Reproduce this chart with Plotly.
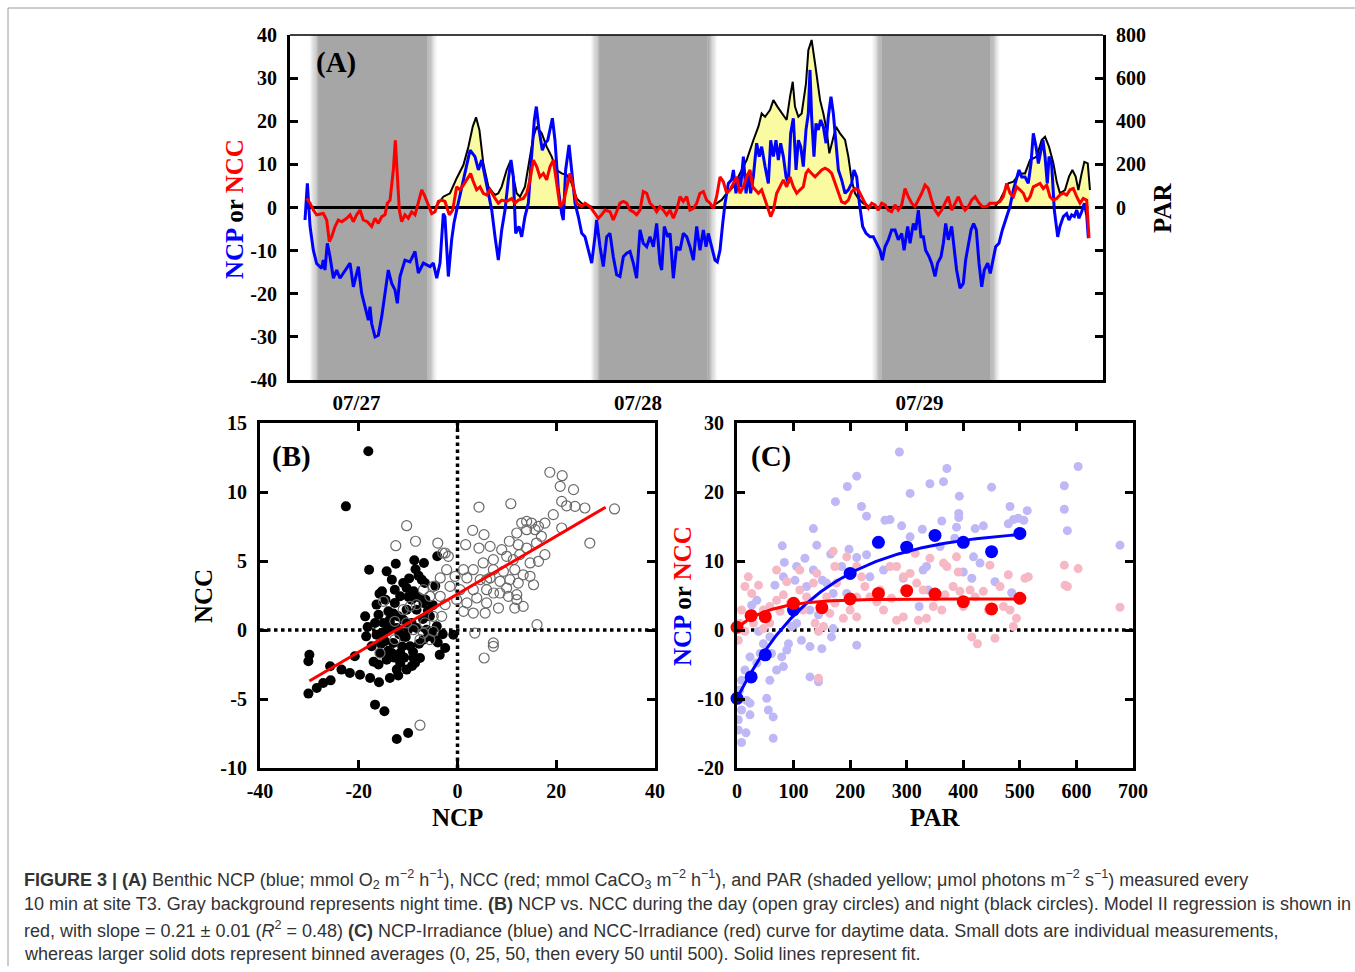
import numpy as np
import plotly.graph_objects as go

# ---------------- Panel A : time series (hours since 07/27 00:00) ----------------
ncp_t = [-4.39,-4.19,-3.96,-3.68,-3.40,-2.97,-2.83,-2.69,-2.49,-2.26,-1.97,-1.69,-1.41,-1.12,-0.55,-0.27,0.16,0.44,0.81,1.01,
         1.15,1.29,1.58,1.86,2.15,2.43,2.71,3.00,3.28,3.48,3.71,4.13,4.56,4.99,5.27,5.70,6.27,6.55,6.84,7.12,
         7.40,7.54,7.83,8.11,8.31,8.54,9.11,9.68,10.10,10.39,10.67,11.10,11.53,
         11.81,12.09,12.38,12.66,12.94,13.17,13.37,13.57,13.85,14.08,14.36,14.65,14.88,15.16,15.33,15.56,15.84,16.07,16.30,16.50,
         16.70,16.92,17.21,17.49,17.63,17.83,18.12,18.34,18.63,18.91,19.20,19.48,19.76,20.05,20.33,20.47,20.76,21.04,21.33,21.61,
         21.89,22.18,22.46,22.75,23.03,23.32,23.60,23.88,24.17,24.45,24.74,25.02,25.31,25.59,25.87,26.02,26.24,26.53,26.73,27.01,
         27.29,27.58,27.86,28.15,28.43,28.72,29.00,
         29.28,29.57,29.80,29.99,30.28,30.56,30.76,30.99,31.22,31.42,31.70,31.98,32.13,32.35,32.55,32.75,32.98,33.21,33.40,33.60,
         33.83,34.11,34.34,34.54,34.83,35.11,35.31,35.54,35.76,35.96,36.16,36.39,36.62,36.82,37.01,37.24,37.47,37.67,37.87,38.09,
         38.32,38.52,38.66,38.80,39.00,39.17,39.37,39.57,39.80,40.03,40.22,40.45,40.65,40.88,41.08,41.36,41.65,41.93,42.21,42.41,
         42.64,42.87,43.15,43.44,43.78,44.06,44.35,44.63,44.83,45.06,45.34,45.62,45.91,46.19,46.48,46.68,
         46.99,47.19,47.47,47.67,47.90,48.12,48.32,48.52,48.81,49.03,49.32,49.54,49.83,50.03,50.23,50.45,50.74,50.97,51.16,51.45,
         51.73,51.93,52.16,52.39,52.61,52.84,53.07,53.30,53.52,53.81,54.03,54.29,54.49,54.77,55.06,55.43,55.71,56.00,56.28,56.48,
         56.71,56.99,57.27,57.50,57.70,57.93,58.13,58.35,58.52,58.70,58.89,59.04,59.26,59.49,59.78,59.97,60.26,60.54,60.74,60.97,
         61.20,61.40,61.59,61.82,62.05,62.25,62.39]
ncp_v = [-2.9,5.6,-4.4,-9.9,-13.0,-14.1,-12.2,-14.5,-8.3,-11.4,-16.4,-14.5,-16.4,-15.3,-12.9,-18.4,-13.7,-19.9,-23.8,-26.1,
         -23.0,-26.9,-30.0,-29.6,-25.3,-19.9,-14.5,-17.6,-19.1,-22.2,-16.0,-12.2,-12.6,-10.2,-15.2,-12.9,-13.7,-12.9,-16.4,-12.9,
         -1.4,-2.2,-16.0,-7.5,-3.6,-0.6,6.4,13.3,11.8,8.7,11.0,4.8,-0.6,
         -6.8,-12.2,-5.2,-0.6,6.4,11.0,7.1,-6.0,-4.4,-6.8,-2.1,1.0,10.2,20.3,23.4,18.0,13.3,14.9,15.6,18.0,
         20.7,15.6,4.1,-1.4,-2.9,8.7,14.5,8.7,1.0,-2.1,-6.0,-6.8,-9.9,-12.9,-6.8,-2.9,-9.1,-13.7,-6.8,-6.0,
         -11.4,-15.6,-16.0,-11.4,-10.6,-10.2,-12.9,-16.4,-5.2,-8.3,-9.1,-6.8,-9.1,-3.7,-12.9,-14.5,-4.4,-6.8,-6.0,-16.4,
         -9.1,-9.9,-6.0,-6.8,-9.1,-12.2,-4.4,
         -9.9,-5.2,-9.1,-6.0,-9.1,-12.2,-12.6,-9.9,-3.7,1.0,5.6,6.4,8.7,3.3,7.1,4.8,11.8,3.3,7.9,3.3,
         7.1,14.9,11.8,14.1,9.5,5.6,15.6,11.8,15.6,11.0,14.9,11.8,7.1,5.6,17.2,20.7,8.7,15.6,14.1,9.5,
         18.0,21.8,31.9,21.0,11.8,19.5,18.0,20.3,18.7,14.9,21.0,25.7,21.8,14.1,8.7,6.4,3.3,4.1,5.6,8.7,
         7.1,1.0,-4.4,-6.0,-6.8,-6.8,-8.3,-9.9,-12.2,-9.1,-7.5,-5.2,-5.2,-7.5,-6.0,-9.9,
         -4.4,-8.3,-3.7,-5.2,-0.6,-6.8,-6.8,-9.9,-11.4,-12.9,-16.0,-12.9,-11.4,-8.3,-3.7,-7.5,-4.4,-9.9,-14.5,-18.7,
         -17.6,-12.2,-9.1,-5.2,-3.7,-5.2,-12.9,-18.4,-14.5,-12.9,-15.3,-12.2,-9.1,-8.3,-5.2,-2.1,0.2,4.1,7.1,8.7,
         7.1,7.1,5.6,10.2,17.2,14.1,10.2,13.3,15.6,11.8,5.6,11.8,10.2,-0.6,-6.8,-4.4,-2.1,-1.4,-2.9,-1.7,
         -2.1,-0.6,-2.5,-1.0,1.0,-1.7,-7.1]

ncc_t = [-4.25,-3.96,-3.68,-3.40,-2.83,-2.54,-2.32,-2.12,-1.83,-1.55,-1.26,-0.84,-0.55,-0.27,0.01,0.30,0.58,0.92,1.29,1.58,
         1.86,2.15,2.43,2.63,2.86,3.14,3.31,3.48,3.65,3.85,4.13,4.42,4.70,4.99,5.27,5.56,5.84,6.12,6.41,6.69,
         6.98,7.26,7.54,7.91,8.20,8.54,8.82,9.11,9.39,9.73,9.96,10.24,10.53,10.81,11.10,11.38,11.81,
         12.09,12.38,12.80,13.23,13.51,13.80,14.22,14.51,14.79,15.08,15.36,15.64,15.93,16.21,16.50,16.78,17.06,17.35,17.63,17.92,
         18.20,18.49,18.77,19.20,19.48,19.91,20.33,20.62,20.90,21.19,21.61,21.89,22.18,22.46,22.75,23.03,23.32,23.60,23.88,24.17,
         24.45,24.74,25.02,25.31,25.59,25.87,26.16,26.44,26.73,27.01,27.29,27.58,27.86,28.15,28.43,28.72,29.00,29.28,
         29.57,29.85,30.14,30.42,30.70,30.99,31.27,31.56,31.84,32.13,32.41,32.69,32.98,33.26,33.55,33.77,33.97,34.26,34.54,34.83,
         35.11,35.31,35.54,35.82,36.10,36.39,36.67,36.96,37.24,37.53,37.81,38.09,38.32,38.52,38.80,39.09,39.37,39.66,39.94,40.22,
         40.51,40.79,41.08,41.36,41.65,41.93,42.21,42.50,42.78,43.07,43.35,43.64,43.92,44.20,44.49,44.77,45.06,45.34,45.62,45.91,
         46.19,46.48,46.76,
         47.04,47.33,47.61,47.90,48.18,48.47,48.75,49.03,49.32,49.60,49.89,50.17,50.45,50.74,51.02,51.31,51.59,51.88,52.16,52.44,
         52.73,53.01,53.35,53.72,54.01,54.29,54.57,54.86,55.14,55.43,55.71,56.00,56.28,56.56,56.85,57.13,57.42,57.70,57.99,58.27,
         58.55,58.84,59.12,59.41,59.69,59.97,60.26,60.54,60.83,61.11,61.40,61.68,61.96,62.25,62.45]
ncc_v = [2.1,1.0,-0.6,-1.7,-1.4,-2.9,-7.9,-6.8,-4.4,-2.9,-3.3,-2.5,-1.7,-3.3,-1.7,-0.6,-2.9,-3.3,-4.4,-2.5,
         -3.7,-2.1,-1.7,1.0,1.7,8.7,15.6,8.7,-0.6,-3.3,-1.7,-2.5,-1.0,-1.7,1.4,4.1,2.5,0.6,-1.4,-1.0,
         1.4,1.7,1.4,-1.7,-0.6,4.8,4.1,5.2,6.4,7.9,6.0,4.1,4.8,3.3,2.9,4.1,2.1,
         1.0,1.7,1.4,2.1,1.0,1.7,2.1,3.3,6.4,11.0,9.5,7.1,7.9,6.4,9.5,11.0,5.6,0.2,1.0,4.8,
         7.9,4.8,1.0,0.2,1.0,0.2,-1.4,-2.5,-1.7,-0.6,-1.0,-2.9,-1.0,1.0,1.4,1.0,-0.6,-1.0,-1.7,-0.6,
         3.7,3.3,1.0,0.2,-1.0,0.2,-0.6,-1.7,-0.6,-2.5,-0.6,2.5,1.4,2.5,-0.6,-0.2,1.0,3.3,
         3.7,1.7,1.0,-0.2,2.5,7.1,6.0,3.3,4.1,5.6,7.1,3.3,4.8,7.1,8.7,4.8,4.1,3.3,4.1,1.7,
         -0.6,-2.1,-0.6,3.3,4.8,6.4,4.8,7.1,4.8,3.3,4.1,4.8,7.9,8.7,7.9,7.1,7.9,8.7,9.1,8.7,
         7.9,5.6,3.3,1.3,1.0,1.7,3.7,4.4,4.1,2.5,1.0,-0.2,1.0,0.6,-0.6,1.0,0.6,-0.6,-1.0,0.6,
         -0.6,0.6,4.4,
         2.5,1.0,0.2,1.7,3.3,5.2,4.4,1.7,-0.6,-1.7,-0.6,1.0,2.5,-0.6,1.0,2.5,0.6,-0.6,0.2,1.7,
         2.5,1.3,0.2,0.2,1.0,1.0,1.0,1.4,2.5,5.6,3.3,2.5,4.8,4.1,3.3,1.4,2.5,4.8,5.2,5.6,
         4.4,5.2,2.5,1.7,2.1,2.9,3.3,2.9,4.1,4.4,2.5,1.0,2.1,1.7,-7.1]

par_t = [-4.39,6.70,7.40,7.97,8.54,9.11,9.54,9.91,10.19,10.48,10.81,11.24,11.67,11.81,12.09,12.38,12.80,13.09,13.37,13.65,
         13.94,14.36,14.79,15.08,15.36,15.79,16.21,16.64,17.06,17.49,17.92,18.34,18.77,19.20,19.76,20.33,29.80,30.28,30.70,31.13,
         31.56,32.13,32.69,33.26,33.83,34.26,34.54,34.83,35.25,35.54,35.88,36.25,36.67,36.96,37.19,37.38,37.67,37.95,38.32,38.52,
         38.80,39.09,39.29,39.52,39.80,40.08,40.31,40.59,40.88,41.22,41.65,41.93,42.21,42.50,42.78,43.21,43.78,44.35,54.20,54.43,
         54.86,55.29,55.57,56.00,56.56,56.99,57.42,57.99,58.41,58.70,59.04,59.41,59.69,59.97,60.40,60.74,61.03,61.31,61.54,61.82,
         62.05,62.34,62.53]
par_v = [0,0,50,66,136,197,282,375,418,359,205,97,66,58,66,97,174,212,143,66,
         50,97,236,328,375,344,282,236,174,158,151,112,42,19,7,0,0,4,19,35,
         66,97,158,220,312,375,436,421,452,498,468,436,406,514,583,468,421,436,576,730,
         777,668,576,498,436,359,251,313,375,344,313,236,128,66,42,19,4,0,0,4,
         35,81,112,120,158,158,220,236,313,328,282,205,120,66,81,143,174,143,81,158,
         212,205,81]

night_start = [-3.6, 20.35, 44.35]
night_end = [6.45, 30.35, 54.45]
day_ticks = [0, 24, 48]
day_labels = ["07/27", "07/28", "07/29"]
ncp_ticks = [-40, -30, -20, -10, 0, 10, 20, 30, 40]
par_ticks = [-800, -600, -400, -200, 0, 200, 400, 600, 800]
par_tick_labels = ["", "", "", "", "0", "200", "400", "600", "800"]

# ---------------- Panel B : NCP vs NCC ----------------
night_ncp = [-18.06,-22.6,-17.9,-12.5,-8.75,-6.8,-4.1,-14.35,-13.3,-15.3,-15.8,-9.8,-7.9,-7.25,-10.3,-11.6,-8.9,-6.6,-18.7,-18.2,
             -18.5,-16.0,-16.7,-15.0,-13.7,-16.4,-14.35,-12.3,-11.0,-13.0,-15.7,-14.35,-11.6,-9.6,-8.6,-7.6,-10.3,-12.3,-13.7,-15.9,
             -17.7,-19.75,-21.8,-23.5,-25.8,-20.8,-30.0,-30.2,-30.2,-28.5,-27.2,-25.7,-16.7,-14.8,-12.3,-10.0,-2.5,-0.85,-4.2,-5.6,
             -6.25,-4.56,-8.3,-10.3,-12.0,-14.0,-12.7,-9.3,-6.9,-16.4,-12.7,-8.3,-6.9,-9.3,-11.0,-14.7,-17.4,-11.6,-8.9,-13.3,
             -5.9,-10.0,-13.3,-15.4,-15.5,-14.0,-12.8,-11.2,-10.5,-9.0,-7.8,-7.0,-6.0,-5.2,-4.0,-3.0,-8.0,-9.9,-11.8,-13.7,
             -15.0,-16.0,-12.0,-10.8,-9.2,-13.0,-14.6,-11.0,-8.5,-6.5,-5.0,-4.5,-3.6,-17.0]
night_ncc = [12.95,8.96,4.37,4.8,5.05,4.86,5.34,4.25,3.65,2.8,2.63,3.74,3.94,3.65,3.04,2.44,2.8,3.4,0.99,0.22,
             -0.46,1.11,0.51,0.51,0.75,-0.34,-0.1,0.14,-0.46,-0.94,-1.67,-2.15,-1.67,-1.18,-2.39,-2.03,-2.87,-2.87,-3.48,-3.79,
             -3.48,-3.24,-3.12,-2.87,-2.63,-1.9,-1.79,-2.27,-4.61,-4.2,-3.84,-3.65,-5.41,-5.89,-7.9,-7.46,-1.3,-0.34,0.27,0.99,
             0.02,-0.7,1.47,1.47,0.99,1.35,1.96,2.2,1.96,1.84,2.92,0.14,-0.7,0.51,0.75,-0.82,-1.18,-2.39,-2.03,-1.67,
             -0.46,0.02,0.14,-0.22,-1.0,-1.5,-2.0,-1.2,-0.5,-1.6,-1.0,0.8,1.4,-0.2,-0.9,-0.3,2.4,2.4,-0.3,0.5,
             -0.2,-2.5,-3.3,-2.0,-2.6,1.2,2.2,3.4,4.4,2.2,1.8,3.2,-1.8,-2.3]
day_ncp = [18.7,21.2,20.8,23.5,4.35,10.8,21.1,22.1,23.8,25.8,31.8,26.8,-10.3,-8.5,-12.5,-4.0,-3.0,-1.86,3.07,5.37,
           1.65,4.35,6.6,10.5,13.0,14.0,15.0,16.4,17.7,19.4,12.0,14.0,15.7,17.0,12.3,14.0,16.0,17.7,21.1,8.95,
           9.95,11.3,12.6,14.7,16.4,7.26,5.2,3.2,7.26,9.3,11.6,13.3,14.7,15.4,12.3,10.6,8.6,6.6,4.6,1.9,
           -0.5,-2.2,-3.5,-4.9,-1.52,0.5,3.2,5.9,7.3,9.95,12.0,12.0,11.6,13.3,8.3,5.9,3.9,1.9,1.2,3.2,
           5.6,-0.17,-2.5,-3.5,-5.6,-6.9,-8.3,-9.6,-11.0,-12.7,-15.0,-4.9,-3.2,-6.6,-4.9,-5.6,-7.6,-8.95,-10.3,-6.9,
           -12.7,-15.7,16.1,3.5,7.26,7.26,5.4,-7.6,-2.5,1.2,5.9,10.3,8.6]
day_ncc = [11.43,11.18,10.41,10.17,8.91,9.15,9.32,9.0,8.96,8.84,8.77,6.3,7.56,6.43,6.11,6.3,5.58,5.34,7.22,6.91,
           6.18,5.94,6.06,6.43,7.75,7.87,7.75,7.51,7.75,8.36,7.03,7.27,7.27,6.79,6.18,5.94,6.3,5.46,7.39,5.82,
           5.34,5.1,5.46,4.86,4.98,5.1,4.86,4.37,4.37,4.25,4.37,4.0,3.89,3.28,3.4,3.65,3.53,3.77,3.65,3.77,
           3.89,4.37,3.77,3.16,3.16,2.92,2.92,2.92,2.68,3.04,2.56,2.2,1.59,1.71,1.59,1.96,2.32,1.96,1.35,1.23,
           1.23,2.2,1.84,2.44,2.44,2.92,1.84,1.71,1.47,0.63,2.08,0.99,0.99,0.51,-0.1,-0.7,-0.7,0.02,0.51,-0.22,
           -0.7,-1.67,0.39,-0.22,-0.94,-1.18,-2.03,-6.9,5.58,4.37,3.65,2.44,2.68]
reg_slope = 0.21
reg_intercept = 2.6
reg_x = [-30, 30]
b_xticks = [-40, -20, 0, 20, 40]
b_yticks = [-10, -5, 0, 5, 10, 15]

# ---------------- Panel C : P-I curves ----------------
c_ncp_par = [287,211.6,195,603,578.6,578.6,584,677,450,393,371,365,341,306,174,220,229,261.6,270.5,291,
             327.6,362,392,392,388,421,435.5,479.6,482.6,497,507,513,488.5,135,80,83.7,120,141,165.6,211.6,
             229,198,185,151,135,105.5,82,67,102.5,123,158.5,170,194,259,294,329,335,400,418,429.6,
             415,456,485.5,322,306,359,338,385,235,35,26,46.6,58,38,23,35,46.6,14,8,5,
             17,8,23,2.4,16,8,2.4,23,52.5,55.4,64,64,58,70,79,91,96.7,114,129,150,
             105.5,129,144,167,170,211.6,129,144,82,88,61,41]
c_ncp_val = [25.8,22.3,20.8,23.7,20.9,17.5,14.4,12.3,20.7,19.4,23.4,21.5,21.2,19.8,18.6,17.9,16.5,15.9,16.0,15.1,
             14.6,15.8,16.9,16.3,14.9,14.7,15.1,15.4,17.9,16.2,15.9,17.3,16.0,14.7,12.2,9.8,10.4,12.3,11.0,10.5,
             10.9,11.7,9.2,7.2,8.7,9.2,7.7,6.5,7.2,6.3,6.8,5.3,5.3,8.7,7.5,8.7,9.2,8.4,10.6,9.7,
             7.5,7.0,5.4,3.4,13.5,12.1,5.8,13.3,7.7,4.3,3.6,1.7,-1.0,-0.2,-3.9,-4.8,-2.0,-5.8,-7.3,-8.7,
             -10.2,-11.6,-12.3,-13.0,-14.9,-16.3,-14.5,-10.6,-9.9,-11.6,-15.7,-12.6,-7.3,-5.8,-3.9,-2.0,0.5,-1.5,-2.4,-2.7,
             0.96,2.9,2.2,-1.0,0.2,-2.2,-6.8,-7.5,-5.3,-2.9,-3.4,-3.4]
c_ncc_par = [20,14,38,46.6,26,8,5,2.4,14,29,58,70,82,88,111,123,135,141,158.5,150,
             164,173,176,173,170,194,211.6,220,226,211.6,200,188,138,144,153,144,235,247,259,273,
             270.5,282,294,306,317.6,329,282,294,320.5,335,347,362,367.7,371,388,391,382,394,412,421,
             435.5,447,415,425,456,488.5,494,482.6,479.6,465,509,515,578.6,580,584,603,677,444,471,400,
             253,211.6,117,94,76,58,46.6,111,70,26,341,315,365]
c_ncc_val = [7.7,6.3,6.5,2.9,2.4,2.9,0.96,-1.5,-0.2,1.0,3.4,4.3,5.1,7.0,5.8,4.8,6.8,8.2,4.8,2.9,
             2.4,3.9,6.8,9.2,11.4,10.6,9.2,7.7,6.3,4.8,2.9,1.7,1.0,-0.2,0.5,-7.0,4.8,4.1,2.9,4.6,
             9.2,9.2,7.7,8.2,6.8,5.8,1.4,1.9,1.4,1.7,3.4,2.9,5.1,9.2,10.6,8.4,6.3,5.6,5.8,4.8,
             5.6,9.4,-1.0,-2.0,-1.2,0.5,1.7,2.9,8.0,6.3,7.5,7.7,9.4,6.5,6.3,8.9,3.3,2.9,3.4,3.4,
             5.8,1.9,2.9,3.9,2.7,1.0,0.2,8.7,8.7,5.3,10.4,11.1,9.7]
bin_par_ncp = [0, 25, 50, 100, 200, 250, 300, 350, 400, 450, 500]
bin_ncp = [-9.9, -6.8, -3.6, 2.9, 8.2, 12.7, 12.0, 13.7, 12.7, 11.35, 14.0]
bin_par_ncc = [0, 25, 50, 100, 150, 200, 250, 300, 350, 400, 450, 500]
bin_ncc = [0.4, 2.07, 1.93, 3.87, 3.23, 4.49, 5.3, 5.7, 5.2, 4.1, 3.05, 4.6]
# fitted saturating curves: a*(1-exp(-PAR/k)) + b
ncp_fit = dict(a=24.6, k=150.0, b=-9.9)
ncc_fit = dict(a=4.2, k=60.0, b=0.3)
fit_par_max = 500
c_xticks = [0, 100, 200, 300, 400, 500, 600, 700]
c_yticks = [-20, -10, 0, 10, 20, 30]

# ---------------- figure ----------------
W, H = 1355, 972
def px(x):
    return x / W
def py(y):
    return 1 - y / H
def lab(vals):
    return [str(v) for v in vals]   # plain hyphen minus like the original

SERIF = "Liberation Serif"
BLUE = "#0000ff"
RED = "#ff0000"
tickfont = dict(family=SERIF, size=20, color="black", weight="bold")

fig = go.Figure()

# Panel A traces (PAR on base axis y, NCP/NCC on overlay y2)
fig.add_trace(go.Scatter(x=par_t, y=par_v, xaxis="x", yaxis="y", mode="lines",
                         line=dict(color="black", width=2), fill="tozeroy",
                         fillcolor="rgb(250,250,160)", hoverinfo="skip", showlegend=False))
fig.add_trace(go.Scatter(x=[ncp_t[0], ncp_t[-1]], y=[0, 0], xaxis="x", yaxis="y", mode="lines",
                         line=dict(color="black", width=3), hoverinfo="skip", showlegend=False))
fig.add_trace(go.Scatter(x=ncp_t, y=ncp_v, xaxis="x", yaxis="y2", mode="lines",
                         line=dict(color=BLUE, width=3), showlegend=False))
fig.add_trace(go.Scatter(x=ncc_t, y=ncc_v, xaxis="x", yaxis="y2", mode="lines",
                         line=dict(color=RED, width=3), showlegend=False))

# Panel B
fig.add_trace(go.Scatter(x=[-40, 40], y=[0, 0], xaxis="x2", yaxis="y3", mode="lines",
                         line=dict(color="black", width=3.5, dash="dot"), showlegend=False, hoverinfo="skip"))
fig.add_trace(go.Scatter(x=[0, 0], y=[-10, 15], xaxis="x2", yaxis="y3", mode="lines",
                         line=dict(color="black", width=3.5, dash="dot"), showlegend=False, hoverinfo="skip"))
fig.add_trace(go.Scatter(x=night_ncp, y=night_ncc, xaxis="x2", yaxis="y3", mode="markers",
                         marker=dict(color="black", size=10, line=dict(width=0)), showlegend=False))
fig.add_trace(go.Scatter(x=day_ncp, y=day_ncc, xaxis="x2", yaxis="y3", mode="markers",
                         marker=dict(symbol="circle-open", color="#6a6a6a", size=10, line=dict(width=1.2)),
                         showlegend=False))
reg_y = [reg_slope * v + reg_intercept for v in reg_x]
fig.add_trace(go.Scatter(x=reg_x, y=reg_y, xaxis="x2", yaxis="y3", mode="lines",
                         line=dict(color=RED, width=3), showlegend=False))

# Panel C
fig.add_trace(go.Scatter(x=[0, 700], y=[0, 0], xaxis="x3", yaxis="y4", mode="lines",
                         line=dict(color="black", width=3.5, dash="dot"), showlegend=False, hoverinfo="skip"))
fig.add_trace(go.Scatter(x=c_ncp_par, y=c_ncp_val, xaxis="x3", yaxis="y4", mode="markers",
                         marker=dict(color="rgb(190,184,246)", size=9), cliponaxis=False, showlegend=False))
fig.add_trace(go.Scatter(x=c_ncc_par, y=c_ncc_val, xaxis="x3", yaxis="y4", mode="markers",
                         marker=dict(color="rgb(246,184,196)", size=9), cliponaxis=False, showlegend=False))
fit_x = np.linspace(0, fit_par_max, 201)
fig.add_trace(go.Scatter(x=fit_x, y=ncp_fit["a"] * (1 - np.exp(-fit_x / ncp_fit["k"])) + ncp_fit["b"],
                         xaxis="x3", yaxis="y4", mode="lines", line=dict(color=BLUE, width=3),
                         cliponaxis=False, showlegend=False))
fig.add_trace(go.Scatter(x=fit_x, y=ncc_fit["a"] * (1 - np.exp(-fit_x / ncc_fit["k"])) + ncc_fit["b"],
                         xaxis="x3", yaxis="y4", mode="lines", line=dict(color=RED, width=3),
                         cliponaxis=False, showlegend=False))
fig.add_trace(go.Scatter(x=bin_par_ncp, y=bin_ncp, xaxis="x3", yaxis="y4", mode="markers",
                         marker=dict(color=BLUE, size=13), cliponaxis=False, showlegend=False))
fig.add_trace(go.Scatter(x=bin_par_ncc, y=bin_ncc, xaxis="x3", yaxis="y4", mode="markers",
                         marker=dict(color=RED, size=13), cliponaxis=False, showlegend=False))

# night shading with soft edges
shapes = []
gray = np.array([166, 166, 166])
white = np.array([255, 255, 255])
ramp = 0.8
nsteps = 8
for s, e in zip(night_start, night_end):
    shapes.append(dict(type="rect", xref="x", yref="y domain", x0=s + ramp / 2, x1=e - ramp / 2,
                       y0=0, y1=1, fillcolor="rgb(166,166,166)", line=dict(width=0), layer="below"))
    for i in range(nsteps):
        f = (i + 0.5) / nsteps
        c = (white * (1 - f) + gray * f).astype(int)
        col = "rgb(%d,%d,%d)" % tuple(c)
        a0 = s - ramp / 2 + i * ramp / nsteps
        shapes.append(dict(type="rect", xref="x", yref="y domain", x0=a0, x1=a0 + ramp / nsteps + 0.01,
                           y0=0, y1=1, fillcolor=col, line=dict(width=0), layer="below"))
        b1 = e + ramp / 2 - i * ramp / nsteps
        shapes.append(dict(type="rect", xref="x", yref="y domain", x0=b1 - ramp / nsteps - 0.01, x1=b1,
                           y0=0, y1=1, fillcolor=col, line=dict(width=0), layer="below"))

# top border of panel A (thin)
shapes.append(dict(type="line", xref="paper", yref="paper", x0=px(290), x1=px(1103), y0=py(35), y1=py(35),
                   line=dict(color="black", width=1.5)))
# outer frame
shapes.append(dict(type="line", xref="paper", yref="paper", x0=px(8), x1=1, y0=py(8), y1=py(8),
                   line=dict(color="#9a9a9a", width=1)))
shapes.append(dict(type="line", xref="paper", yref="paper", x0=px(8), x1=px(8), y0=py(8), y1=py(966),
                   line=dict(color="#9a9a9a", width=1)))

axis_common = dict(showline=True, linecolor="black", linewidth=3, showgrid=False, zeroline=False,
                   tickcolor="black", ticklen=8, tickwidth=2.5, automargin=False)

A_dom_x = [px(290), px(1103)]
A_dom_y = [py(380), py(35)]
B_dom_x = [px(260), px(655)]
C_dom_x = [px(737), px(1133)]
BC_dom_y = [py(768), py(423)]

fig.update_layout(
    template="none",
    width=W, height=H, margin=dict(l=0, r=0, t=0, b=0, pad=0, autoexpand=False),
    paper_bgcolor="white", plot_bgcolor="white", showlegend=False,
    shapes=shapes,
    xaxis=dict(domain=A_dom_x, anchor="y", range=[-5.67, 63.64], tickvals=day_ticks, ticktext=day_labels,
               ticks="", mirror=False, ticklabelstandoff=2,
               tickfont=dict(family=SERIF, size=21, color="black", weight="bold"), **axis_common),
    yaxis=dict(domain=A_dom_y, anchor="x", side="right", range=[-800, 800],
               tickvals=par_ticks, ticktext=par_tick_labels,
               ticks="inside", ticklabelstandoff=6, tickfont=tickfont, **axis_common),
    yaxis2=dict(overlaying="y", anchor="x", side="left", range=[-40, 40],
                tickvals=ncp_ticks, ticktext=lab(ncp_ticks),
                ticks="inside", ticklabelstandoff=6, tickfont=tickfont, **axis_common),
    xaxis2=dict(domain=B_dom_x, anchor="y3", range=[-40, 40], tickvals=b_xticks, ticktext=lab(b_xticks),
                ticks="inside", mirror="ticks", ticklabelstandoff=3, tickfont=tickfont, **axis_common),
    yaxis3=dict(domain=BC_dom_y, anchor="x2", range=[-10, 15], tickvals=b_yticks, ticktext=lab(b_yticks),
                ticks="inside", mirror="ticks", ticklabelstandoff=6, tickfont=tickfont, **axis_common),
    xaxis3=dict(domain=C_dom_x, anchor="y4", range=[0, 700], tickvals=c_xticks, ticktext=lab(c_xticks),
                ticks="inside", mirror="ticks", ticklabelstandoff=3, tickfont=tickfont, **axis_common),
    yaxis4=dict(domain=BC_dom_y, anchor="x3", range=[-20, 30], tickvals=c_yticks, ticktext=lab(c_yticks),
                ticks="inside", mirror="ticks", ticklabelstandoff=6, tickfont=tickfont, **axis_common),
)

title_font = dict(family=SERIF, size=25, color="black")
mixed = ('<b><span style="color:%s">NCP</span> or <span style="color:%s">NCC</span></b>' % (BLUE, RED))
annotations = [
    dict(text=mixed, x=px(234), y=py(209), textangle=-90),
    dict(text="<b>PAR</b>", x=px(1162), y=py(208), textangle=-90),
    dict(text="<b>NCC</b>", x=px(203), y=py(596), textangle=-90),
    dict(text="<b>NCP</b>", x=px(457.5), y=py(817)),
    dict(text=mixed, x=px(682), y=py(596), textangle=-90),
    dict(text="<b>PAR</b>", x=px(935), y=py(817)),
]
for a in annotations:
    a.update(xref="paper", yref="paper", showarrow=False, xanchor="center", yanchor="middle", font=title_font)
for lbl, xx, yy in [("(A)", 336, 63), ("(B)", 291, 456), ("(C)", 771, 456)]:
    annotations.append(dict(text="<b>%s</b>" % lbl, x=px(xx), y=py(yy), xref="paper", yref="paper",
                            showarrow=False, xanchor="center", yanchor="middle",
                            font=dict(family=SERIF, size=29, color="black")))

cap_font = dict(family="Liberation Sans, Arial, sans-serif", size=18, color="#333333")
cap_lines = [
    "<b>FIGURE 3 | (A)</b> Benthic NCP (blue; mmol O<sub>2</sub> m<sup>−2</sup> h<sup>−1</sup>), NCC (red; mmol CaCO<sub>3</sub> m<sup>−2</sup> h<sup>−1</sup>), and PAR (shaded yellow; μmol photons m<sup>−2</sup> s<sup>−1</sup>) measured every",
    "10 min at site T3. Gray background represents night time. <b>(B)</b> NCP vs. NCC during the day (open gray circles) and night (black circles). Model II regression is shown in",
    "red, with slope = 0.21 ± 0.01 (<i>R</i><sup>2</sup> = 0.48) <b>(C)</b> NCP-Irradiance (blue) and NCC-Irradiance (red) curve for daytime data. Small dots are individual measurements,",
    "whereas larger solid dots represent binned averages (0, 25, 50, then every 50 until 500). Solid lines represent fit.",
]
for i, line in enumerate(cap_lines):
    annotations.append(dict(text=line, x=px(22), y=py(879 + 25 * i), xref="paper", yref="paper",
                            showarrow=False, xanchor="left", yanchor="middle", font=cap_font, align="left"))
fig.update_layout(annotations=annotations)

fig.write_html("out.html")
